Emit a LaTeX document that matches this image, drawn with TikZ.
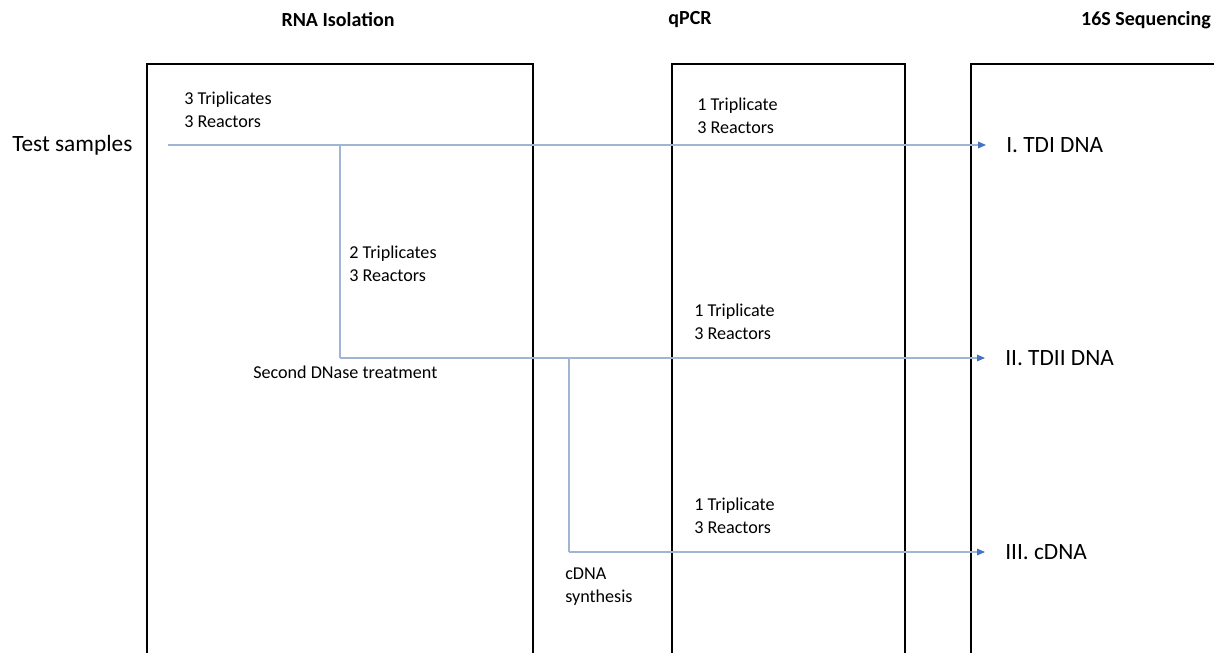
\documentclass[tikz,border=0pt]{standalone}
\usepackage{fontspec}
\setmainfont{Carlito}
\usepackage{tikz}
\usetikzlibrary{arrows.meta}
\definecolor{flowline}{RGB}{160,180,212}
\definecolor{flowtip}{RGB}{68,114,196}

\tikzset{
  box/.style={line width=2.2pt,black},
  flow/.style={flowline,line width=0.8pt},
  flowarrow/.style={flow,-{Triangle[length=6pt,width=5pt,color=flowtip]}},
  title/.style={font=\fontsize{15}{18}\selectfont\bfseries,inner sep=0pt},
  note/.style={font=\fontsize{13.6}{16.8}\selectfont,align=left,anchor=north west,inner sep=0pt},
  target/.style={font=\fontsize{17.5}{20}\selectfont,anchor=west,inner sep=0pt}
}

\begin{document}
\begin{tikzpicture}[x=0.75pt,y=-0.75pt]
\useasboundingbox (0,0) rectangle (1214,653);
% column titles
\node[title] (rna) at (338,20) {RNA Isolation};
\node[title] (qpcr) at (690,20) {qPCR};
\node[title,anchor=east] (seq) at (1211,20) {16S Sequencing};
% columns (open at the bottom)
\draw[box] (147,653) -- (147,64) -- (533,64) -- (533,653);
\draw[box] (672,653) -- (672,64) -- (905,64) -- (905,653);
\draw[box] (971,653) -- (971,64) -- (1214,64);
% samples and results
\node[target] (test) at (12,145) {Test samples};
\node[target] (tdi) at (1006,145) {I. TDI DNA};
\node[target] (tdii) at (1005,358) {II. TDII DNA};
\node[target] (cdna) at (1005,552) {III. cDNA};
% flow lines
\coordinate (start) at (168,145);
\coordinate (split1) at (340,145);
\coordinate (turn1) at (340,358);
\coordinate (split2) at (569,358);
\coordinate (turn2) at (569,552);
\draw[flowarrow] (start) -- ([xshift=-15pt]tdi.west);
\draw[flow] (split1) -- (turn1);
\draw[flowarrow] (turn1) -- ([xshift=-15pt]tdii.west);
\draw[flow] (split2) -- (turn2);
\draw[flowarrow] (turn2) -- ([xshift=-15pt]cdna.west);
% notes
\node[note] (n1) at (184,92) {3 Triplicates\\3 Reactors};
\node[note] (n2) at (697,98) {1 Triplicate\\3 Reactors};
\node[note] (n3) at (349,246) {2 Triplicates\\3 Reactors};
\node[note] (n4) at (694,304) {1 Triplicate\\3 Reactors};
\node[note] (n5) at (253,366) {Second DNase treatment};
\node[note] (n6) at (694,498) {1 Triplicate\\3 Reactors};
\node[note] (n7) at (565,568) {cDNA\\synthesis};
\end{tikzpicture}
\end{document}
